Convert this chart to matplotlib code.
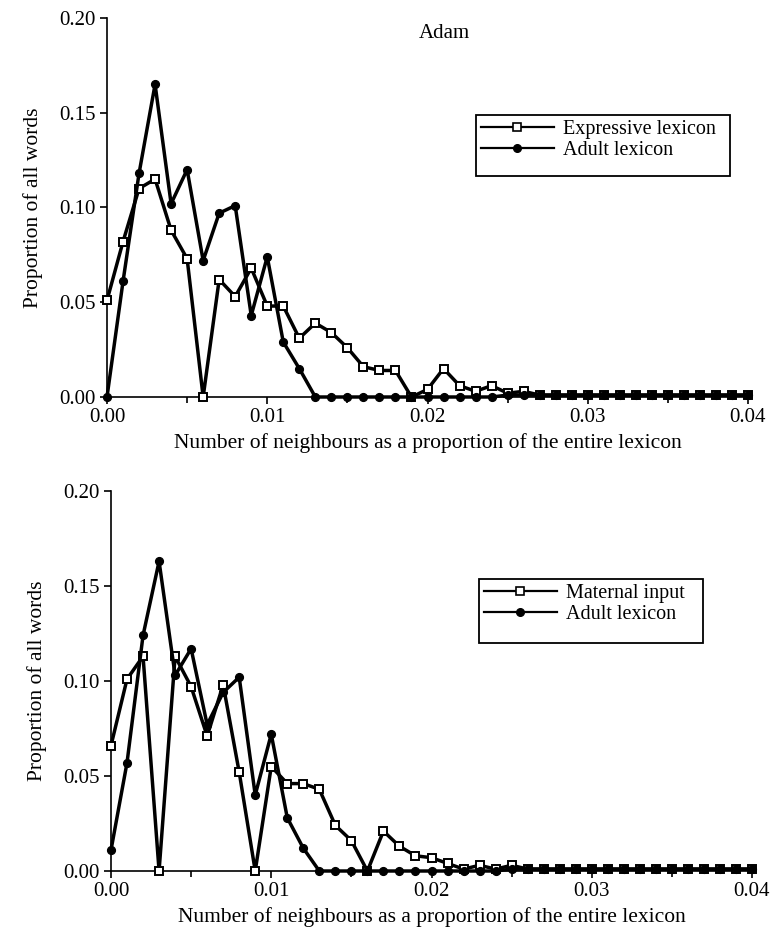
import numpy as np
import matplotlib
matplotlib.use("Agg")
import matplotlib.pyplot as plt
from matplotlib.patches import Rectangle
from matplotlib.ticker import MultipleLocator

plt.rcParams['font.family'] = ['Liberation Serif', 'DejaVu Serif']

# x values: number of neighbours as a proportion of the lexicon
x_vals = [round(0.001 * i, 3) for i in range(41)]

# Top panel (Adam): expressive lexicon vs adult lexicon
expressive = [0.051, 0.082, 0.110, 0.115, 0.088, 0.073, 0.000, 0.062, 0.053, 0.068,
              0.048, 0.048, 0.031, 0.039, 0.034, 0.026, 0.016, 0.014, 0.014, 0.000,
              0.004, 0.015, 0.006, 0.003, 0.006, 0.002, 0.003, 0.001, 0.001, 0.001,
              0.001, 0.001, 0.001, 0.001, 0.001, 0.001, 0.001, 0.001, 0.001, 0.001,
              0.001]
adult_top = [0.000, 0.061, 0.118, 0.165, 0.102, 0.120, 0.072, 0.097, 0.101, 0.043,
             0.074, 0.029, 0.015, 0.000, 0.000, 0.000, 0.000, 0.000, 0.000, 0.000,
             0.000, 0.000, 0.000, 0.000, 0.000, 0.001, 0.001, 0.001, 0.001, 0.001,
             0.001, 0.001, 0.001, 0.001, 0.001, 0.001, 0.001, 0.001, 0.001, 0.001,
             0.001]

# Bottom panel: maternal input vs adult lexicon
maternal = [0.066, 0.101, 0.113, 0.000, 0.113, 0.097, 0.071, 0.098, 0.052, 0.000,
            0.055, 0.046, 0.046, 0.043, 0.024, 0.016, 0.000, 0.021, 0.013, 0.008,
            0.007, 0.004, 0.001, 0.003, 0.001, 0.003, 0.001, 0.001, 0.001, 0.001,
            0.001, 0.001, 0.001, 0.001, 0.001, 0.001, 0.001, 0.001, 0.001, 0.001,
            0.001]
adult_bottom = [0.011, 0.057, 0.124, 0.163, 0.103, 0.117, 0.077, 0.094, 0.102, 0.040,
                0.072, 0.028, 0.012, 0.000, 0.000, 0.000, 0.000, 0.000, 0.000, 0.000,
                0.000, 0.000, 0.000, 0.000, 0.000, 0.001, 0.001, 0.001, 0.001, 0.001,
                0.001, 0.001, 0.001, 0.001, 0.001, 0.001, 0.001, 0.001, 0.001, 0.001,
                0.001]

x_ticks = [0.00, 0.01, 0.02, 0.03, 0.04]
y_ticks = [0.00, 0.05, 0.10, 0.15, 0.20]
x_label = "Number of neighbours as a proportion of the entire lexicon"
y_label = "Proportion of all words"

fig = plt.figure(figsize=(7.75, 9.41), dpi=100)
W, H = 775, 941


def make_axes(left, top, right, bottom):
    return fig.add_axes([left / W, 1 - bottom / H, (right - left) / W, (bottom - top) / H])


def style(ax):
    ax.set_xlim(0, 0.04)
    ax.set_ylim(0, 0.20)
    ax.set_xticks(x_ticks)
    ax.set_xticklabels([f"{t:.2f}" for t in x_ticks])
    ax.set_yticks(y_ticks)
    ax.set_yticklabels([f"{t:.2f}" for t in y_ticks])
    ax.xaxis.set_minor_locator(MultipleLocator(0.005))
    for s in ['top', 'right']:
        ax.spines[s].set_visible(False)
    for s in ['left', 'bottom']:
        ax.spines[s].set_linewidth(1.2)
    ax.tick_params(axis='both', which='major', direction='out', length=5, width=1.2,
                   labelsize=15, pad=3)
    ax.tick_params(axis='x', which='minor', direction='out', length=4, width=1.2)
    ax.set_xlabel(x_label, fontsize=15.5, labelpad=4)
    ax.set_ylabel(y_label, fontsize=15.5)
    ax.yaxis.set_label_coords(-0.1, 0.5)


def draw(ax, sq, ci, sq_label, ci_label):
    ax.plot(x_vals, sq, color='black', lw=2.5, marker='s', markersize=6.2,
            markerfacecolor='white', markeredgecolor='black', markeredgewidth=1.4,
            clip_on=False, zorder=3)
    ax.plot(x_vals, ci, color='black', lw=2.5, marker='o', markersize=5.6,
            markerfacecolor='black', markeredgecolor='black',
            clip_on=False, zorder=3)
    h1, = ax.plot([], [], color='black', lw=1.6, marker='s', markersize=6,
                  markerfacecolor='white', markeredgecolor='black', markeredgewidth=1.2)
    h2, = ax.plot([], [], color='black', lw=1.6, marker='o', markersize=5.5,
                  markerfacecolor='black')
    return [h1, h2], [sq_label, ci_label]


def legend_box(left, top, right, bottom, hs, ls):
    # frame drawn in figure pixel coordinates
    fig.patches.append(Rectangle((left / W, 1 - bottom / H), (right - left) / W,
                                 (bottom - top) / H, transform=fig.transFigure,
                                 fill=False, edgecolor='black', lw=1.3, zorder=5))
    fig.legend(hs, ls, loc='upper left',
               bbox_to_anchor=(left / W, 1 - top / H), bbox_transform=fig.transFigure,
               frameon=False, fontsize=14.5, handlelength=3.6, handletextpad=0.45,
               labelspacing=0.1, borderpad=0.25, borderaxespad=0.0)


# Top panel
ax1 = make_axes(107, 18, 748, 397)
style(ax1)
hs, ls = draw(ax1, expressive, adult_top, "Expressive lexicon", "Adult lexicon")
ax1.text(0.527, 0.985, "Adam", transform=ax1.transAxes, fontsize=15,
         ha='center', va='top')
legend_box(476, 115, 730, 176, hs, ls)

# Bottom panel
ax2 = make_axes(111, 491, 752, 871)
style(ax2)
hs2, ls2 = draw(ax2, maternal, adult_bottom, "Maternal input", "Adult lexicon")
legend_box(479, 579, 703, 643, hs2, ls2)

fig.savefig("out.png", dpi=100)
